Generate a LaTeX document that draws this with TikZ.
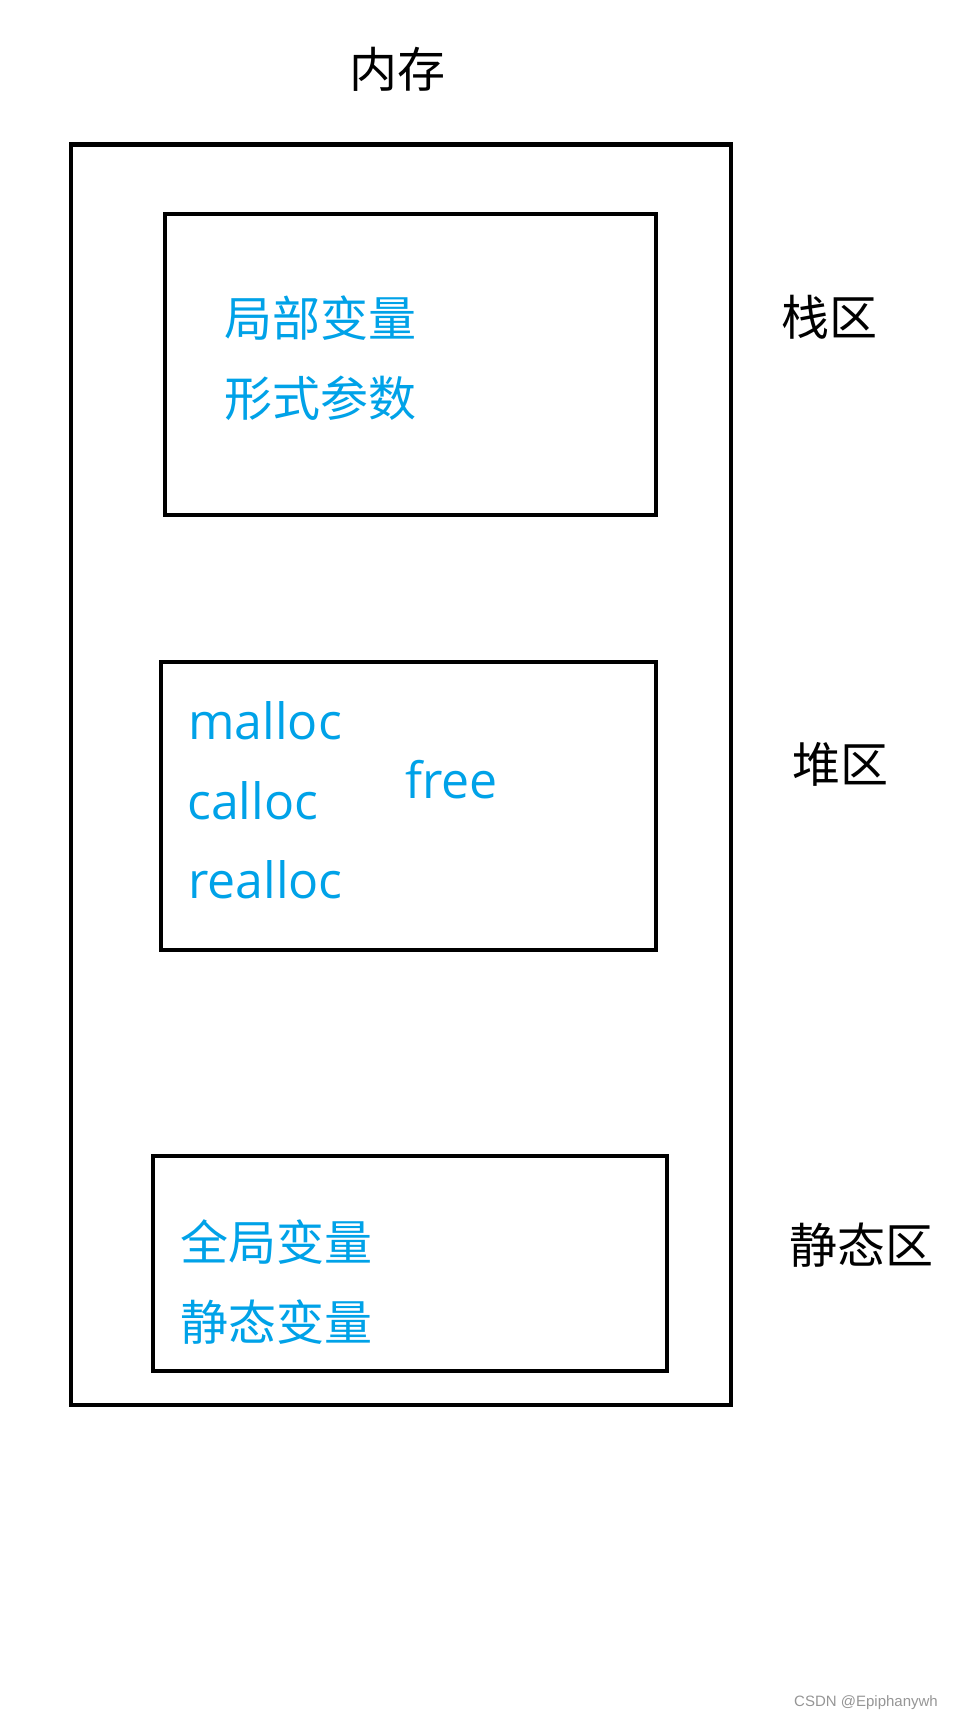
\documentclass[tikz,border=0pt]{standalone}
\usepackage{fontspec}
\newfontfamily\cjk{Noto Sans CJK SC}
\newfontfamily\lat{Open Sans}
\newfontfamily\wm{Liberation Sans}
\definecolor{paintblue}{RGB}{0,162,232}
\definecolor{wmgray}{RGB}{150,150,150}
\begin{document}
\begin{tikzpicture}[x=1pt,y=-1pt,
  box/.style={draw=black, line width=4pt, inner sep=0pt, minimum width=#1},
  cjklabel/.style={inner sep=0pt, font=\cjk\fontsize{48}{48}\selectfont},
  cjkblue/.style={cjklabel, text=paintblue, anchor=west},
  latblue/.style={inner sep=0pt, anchor=base west, text=paintblue, font=\lat\fontsize{50}{50}\selectfont}]
\useasboundingbox[fill=white] (0,0) rectangle (953,1718);
% boxes
\node[box=660pt, minimum height=1260pt] (mem) at (400.5,774.5) {};
\node[box=491pt, minimum height=301.5pt] (stack) at (410,364.25) {};
\node[box=495pt, minimum height=287.8pt] (heap) at (408.5,805.6) {};
\node[box=514pt, minimum height=215.3pt] (static) at (410,1263.35) {};
% black labels
\node[cjklabel] (memlbl) at (397.5,69) {内存};
\node[cjklabel] (stacklbl) at (829.5,317) {栈区};
\node[cjklabel] (heaplbl) at (840.5,764.5) {堆区};
\node[cjklabel] (staticlbl) at (861,1245) {静态区};
% stack contents
\node[cjkblue] (local) at (224,318.5) {局部变量};
\node[cjkblue] (param) at (224,398) {形式参数};
% heap contents
\node[latblue] (malloc) at (188,739) {malloc};
\node[latblue] (calloc) at (187,819) {calloc};
\node[latblue] (realloc) at (188,898) {realloc};
\node[latblue] (free) at (405,798) {free};
% static contents
\node[cjkblue] (global) at (180,1242) {全局变量};
\node[cjkblue] (staticvar) at (180,1322) {静态变量};
% watermark
\node[inner sep=0pt, anchor=base west, text=wmgray, font=\wm\fontsize{15}{15}\selectfont] (wmark) at (794,1706) {CSDN @Epiphanywh};
\end{tikzpicture}
\end{document}
